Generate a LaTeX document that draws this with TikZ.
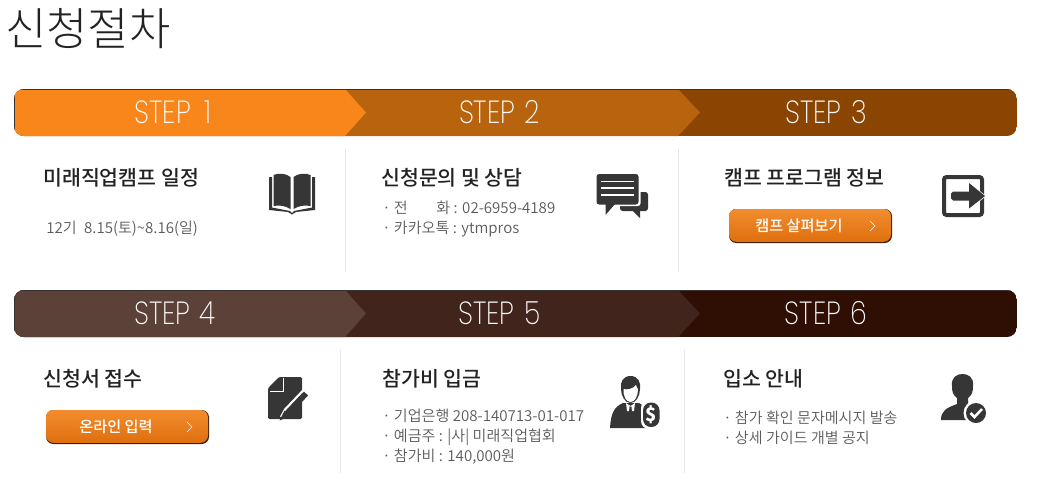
\documentclass[tikz,border=0pt]{standalone}
\usepackage{fontspec}
\setmainfont{Noto Sans CJK KR}
\newfontfamily\krlight{Noto Sans CJK KR DemiLight}
\newfontfamily\krhead{Noto Sans CJK KR Light}
\newfontfamily\krmed{Noto Sans CJK KR Medium}
\newfontfamily\stepfont[FakeStretch=0.84]{Poppins ExtraLight}
\usetikzlibrary{shapes.geometric}
\definecolor{ico}{HTML}{363636}
\definecolor{bodyc}{HTML}{5A5A5A}
\definecolor{titlec}{HTML}{222222}
\definecolor{sepc}{HTML}{E6E6E6}
\definecolor{barA}{HTML}{F9861A}\definecolor{barB}{HTML}{B8640F}\definecolor{barC}{HTML}{8A4503}
\definecolor{barD}{HTML}{5C4139}\definecolor{barE}{HTML}{41251D}\definecolor{barF}{HTML}{2F0E04}
\definecolor{btnT}{HTML}{F28D2F}\definecolor{btnB}{HTML}{DF6F0E}
\tikzset{
 x=0.75pt,y=-0.75pt,
 steplabel/.style={text=white,font=\stepfont\fontsize{24}{25}\selectfont,inner sep=0pt,anchor=center,preaction={}},
 titlelabel/.style={text=titlec,font=\krmed\fontsize{15.4}{18}\selectfont,inner sep=0pt,anchor=west,text height=12pt,text depth=2pt},
 bodylabel/.style={text=bodyc,font=\krlight\fontsize{11.3}{15}\selectfont,inner sep=0pt,anchor=west,text height=10pt,text depth=2pt},
 sepline/.style={draw=sepc,line width=0.75pt},
 btn/.style={rounded corners=5.5pt,draw=none,top color=btnT,bottom color=btnB},
 btnedge/.style={rounded corners=5.5pt,fill=black!75!orange},
 btnlabel/.style={text=white,font=\krmed\fontsize{11.4}{14}\selectfont,inner sep=0pt,anchor=center},
 chev/.style={draw=white,line width=0.5pt},
 icon/.style={fill=ico,draw=none},
}
\begin{document}
\begin{tikzpicture}
\useasboundingbox (0,0) rectangle (1045,487);
\node[inner sep=0pt,anchor=west,text=titlec,font=\krhead\fontsize{33.7}{38}\selectfont] (head) at (5,29) {신청절차};
% bars
\foreach \yt/\ca/\cb/\cc in {89/barA/barB/barC,290/barD/barE/barF}{
 \pgfmathsetmacro\yb{\yt+47}\pgfmathsetmacro\ym{\yt+23.5}
 \begin{scope}
  \clip[rounded corners=7.5pt] (14,\yt) rectangle (1017,\yb);
  \fill[\cc] (14,\yt) rectangle (1017,\yb);
  \fill[\cb] (14,\yt) -- (678,\yt) -- (700,\ym) -- (678,\yb) -- (14,\yb) -- cycle;
  \fill[\ca] (14,\yt) -- (345,\yt) -- (366,\ym) -- (345,\yb) -- (14,\yb) -- cycle;
  \draw[black!80,line width=0.9pt] (14,\yb) -- (14,\yt) -- (1017,\yt);
 \end{scope}
}
\node[steplabel] (s1) at (173,112.5) {STEP\hspace{0.42em}1};
\node[steplabel] (s2) at (499.5,112.5) {STEP\hspace{0.3em}2};
\node[steplabel] (s3) at (826,112.5) {STEP\hspace{0.3em}3};
\node[steplabel] (s4) at (175,313.5) {STEP\hspace{0.3em}4};
\node[steplabel] (s5) at (499.5,313.5) {STEP\hspace{0.3em}5};
\node[steplabel] (s6) at (826,313.5) {STEP\hspace{0.3em}6};
% separators
\draw[sepline] (345,149) -- (345,272);
\draw[sepline] (678,149) -- (678,272);
\draw[sepline] (340,350) -- (340,473);
\draw[sepline] (684,350) -- (684,473);
% titles
\node[titlelabel] (t1) at (43,178.5) {미래직업캠프 일정};
\node[titlelabel] (t2) at (381,178.5) {신청문의 및 상담};
\node[titlelabel] (t3) at (724,178.5) {캠프 프로그램 정보};
\node[titlelabel] (t4) at (43,379.5) {신청서 접수};
\node[titlelabel] (t5) at (382,379.5) {참가비 입금};
\node[titlelabel] (t6) at (723,379.5) {입소 안내};
% body
\node[bodylabel] (b1) at (46,228) {12기\hspace{0.5em}8.15(토)\textasciitilde8.16(일)};
\node[bodylabel] (b2a) at (382,208.5) {· 전\hspace{1.9em}화 : 02-6959-4189};
\node[bodylabel] (b2b) at (382,228.5) {· 카카오톡 : ytmpros};
\node[bodylabel] (b5a) at (382,416.5) {· 기업은행 208-140713-01-017};
\node[bodylabel] (b5b) at (382,436.5) {· 예금주 : |사| 미래직업협회};
\node[bodylabel] (b5c) at (382,456.5) {· 참가비 : 140,000원};
\node[bodylabel] (b6a) at (723,418) {· 참가 확인 문자메시지 발송};
\node[bodylabel] (b6b) at (723,438) {· 상세 가이드 개별 공지};
% buttons
\fill[btnedge] (729,209) rectangle (892,243);
\shade[btn] (729,209) rectangle (891,241.8);
\node[btnlabel] (k1) at (799,225.5) {캠프 살펴보기};
\draw[chev] (870,221) -- (875,226) -- (870,231);
\fill[btnedge] (46,410) rectangle (209,444);
\shade[btn] (46,410) rectangle (208,442.8);
\node[btnlabel] (k2) at (116,426.5) {온라인 입력};
\draw[chev] (187,422) -- (192,427) -- (187,432);
% book
\fill[icon] (269,177) -- (272,177) -- (272,207.5) -- (290,211) -- (292,213) -- (294,211) -- (312,207.5) -- (312,177) -- (315,177) -- (315,210) -- (296,212) -- (292,214.5) -- (288,212) -- (269,210) -- cycle;
\fill[icon] (273.5,175) .. controls (279,172.5) and (286,173.5) .. (290.5,177) -- (290.5,209) .. controls (285,205.5) and (279,205) .. (273.5,206) -- cycle;
\fill[icon] (310.5,175) .. controls (305,172.5) and (298,173.5) .. (293.5,177) -- (293.5,209) .. controls (299,205.5) and (305,205) .. (310.5,206) -- cycle;
% chat
\fill[icon,rounded corners=2pt] (620,192) rectangle (648,211);
\fill[icon] (632,210) -- (640,218) -- (640,210) -- cycle;
\fill[white,rounded corners=2pt] (595,173) rectangle (640.5,206);
\fill[icon,rounded corners=2pt] (596.5,174) rectangle (638.5,204.5);
\fill[icon] (605.5,204) -- (605.5,215) -- (615,204) -- cycle;
\draw[white,line width=1.1pt] (601,181.5) -- (634,181.5) (601,188) -- (634,188) (601,195) -- (634,195);
% exit
\draw[ico,line width=3pt,rounded corners=2pt] (944,177) rectangle (982,215);
\fill[white] (967,180.5) -- (986,196) -- (967,211.5) -- cycle;
\fill[icon] (969,183) -- (985,196) -- (969,208.5) -- (969,200.5) -- (953,200.5) -- (951,198.5) -- (951,193.5) -- (953,191.5) -- (969,191.5) -- cycle;
% document with pen
\fill[icon,rounded corners=1pt] (279,377) -- (302,377) -- (302,419) -- (268,419) -- (268,388) -- cycle;
\draw[white,line width=0.9pt] (283.5,378) -- (283.5,391.5) -- (270,391.5);
\draw[white,line width=1.6pt] (305,388.5) -- (285,409.5) -- (281,417);
\draw[ico,line width=4.2pt] (306,393.5) -- (288,413);
\fill[icon] (284.5,410.5) -- (290,416) -- (279.5,420.5) -- cycle;
% person with dollar
\fill[icon] (610,428) .. controls (611,413) and (614,407) .. (623,403) -- (639,403) .. controls (646,406) and (650,412) .. (651,428) -- cycle;
\fill[icon] (630.5,376) .. controls (623,376) and (620,382) .. (621,389) .. controls (621,396) and (625,403) .. (630.5,403) .. controls (636,403) and (640,396) .. (640,389) .. controls (641,382) and (638,376) .. (630.5,376) -- cycle;
\fill[white] (623.5,389) .. controls (627,390) and (633,389) .. (636,385) .. controls (636.5,387) and (637.5,388.5) .. (638,389) .. controls (638,396) and (635,402) .. (630.5,402) .. controls (626,402) and (623,396) .. (623.5,389) -- cycle;
\fill[white] (626,403) -- (630.5,406) -- (635,403) -- (634,411) -- (627,411) -- cycle;
\fill[icon] (629.5,406.5) -- (631.5,406.5) -- (632,413) -- (630.5,415.5) -- (629,413) -- cycle;
\fill[white,rounded corners=6pt] (641,400) rectangle (661,429);
\fill[icon,rounded corners=6pt] (643,402.5) rectangle (659.5,427);
\node[inner sep=0pt,text=white,font=\bfseries\fontsize{14}{14}\selectfont] (dol) at (651.2,414.5) {\$};
% person with check
\fill[icon] (941,420) .. controls (941,411) and (946,408) .. (957,404) -- (957,398) .. controls (953,395) and (952,392) .. (952,386) .. controls (951,377) and (957,374) .. (962.5,374) .. controls (968,374) and (974,377) .. (973,386) .. controls (973,392) and (972,395) .. (968,398) -- (968,404) .. controls (974,406) and (980,408) .. (984,412) -- (984,420) -- cycle;
\fill[white] (976,413) circle[radius=12.5];
\fill[icon] (976,413) circle[radius=10];
\draw[white,line width=1.9pt] (970.5,413) -- (974.5,417) -- (982,409);
\end{tikzpicture}
\end{document}
